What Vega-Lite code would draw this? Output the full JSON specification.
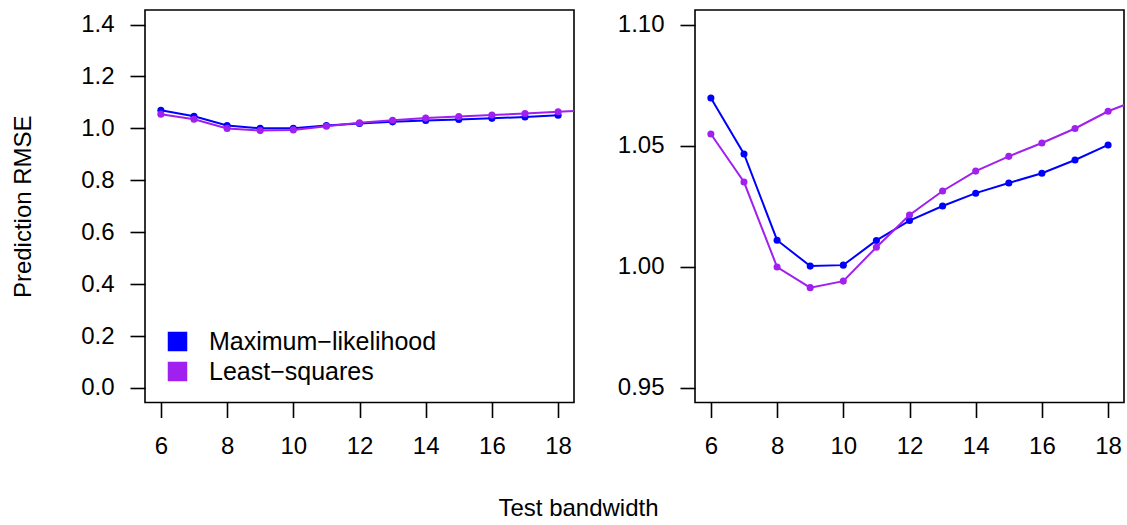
{
  "$schema": "https://vega.github.io/schema/vega-lite/v6.json",
  "padding": {"left": 10, "top": 9, "right": 4, "bottom": 5},
  "background": "white",
  "bounds": "flush",
  "spacing": 121,
  "datasets": {
    "rmse": [
      {"bandwidth": 6, "method": "Maximum−likelihood", "rmse": 1.0697},
      {"bandwidth": 7, "method": "Maximum−likelihood", "rmse": 1.0466},
      {"bandwidth": 8, "method": "Maximum−likelihood", "rmse": 1.0110},
      {"bandwidth": 9, "method": "Maximum−likelihood", "rmse": 1.0003},
      {"bandwidth": 10, "method": "Maximum−likelihood", "rmse": 1.0007},
      {"bandwidth": 11, "method": "Maximum−likelihood", "rmse": 1.0109},
      {"bandwidth": 12, "method": "Maximum−likelihood", "rmse": 1.0191},
      {"bandwidth": 13, "method": "Maximum−likelihood", "rmse": 1.0251},
      {"bandwidth": 14, "method": "Maximum−likelihood", "rmse": 1.0304},
      {"bandwidth": 15, "method": "Maximum−likelihood", "rmse": 1.0346},
      {"bandwidth": 16, "method": "Maximum−likelihood", "rmse": 1.0386},
      {"bandwidth": 17, "method": "Maximum−likelihood", "rmse": 1.0441},
      {"bandwidth": 18, "method": "Maximum−likelihood", "rmse": 1.0503},
      {"bandwidth": 6, "method": "Least−squares", "rmse": 1.0548},
      {"bandwidth": 7, "method": "Least−squares", "rmse": 1.0350},
      {"bandwidth": 8, "method": "Least−squares", "rmse": 0.9999},
      {"bandwidth": 9, "method": "Least−squares", "rmse": 0.9914},
      {"bandwidth": 10, "method": "Least−squares", "rmse": 0.9941},
      {"bandwidth": 11, "method": "Least−squares", "rmse": 1.0081},
      {"bandwidth": 12, "method": "Least−squares", "rmse": 1.0214},
      {"bandwidth": 13, "method": "Least−squares", "rmse": 1.0313},
      {"bandwidth": 14, "method": "Least−squares", "rmse": 1.0395},
      {"bandwidth": 15, "method": "Least−squares", "rmse": 1.0456},
      {"bandwidth": 16, "method": "Least−squares", "rmse": 1.0511},
      {"bandwidth": 17, "method": "Least−squares", "rmse": 1.0571},
      {"bandwidth": 18, "method": "Least−squares", "rmse": 1.0642},
      {"bandwidth": 19, "method": "Least−squares", "rmse": 1.0695}
    ]
  },
  "config": {
    "font": "Liberation Sans",
    "view": {"stroke": "black", "strokeWidth": 1.6},
    "axis": {
      "grid": false, "domain": false,
      "tickColor": "black", "tickSize": 15, "tickWidth": 1.6,
      "labelFont": "Liberation Sans", "labelFontSize": 24, "labelColor": "black",
      "titleFont": "Liberation Sans", "titleFontSize": 24, "titleFontWeight": "normal", "titleColor": "black",
      "labelFlush": false, "labelOverlap": false
    }
  },
  "hconcat": [
    {
      "width": 429,
      "height": 392.5,
      "data": {"name": "rmse"},
      "encoding": {
        "x": {
          "field": "bandwidth", "type": "quantitative",
          "scale": {"domain": [5.52, 18.48], "nice": false, "zero": false},
          "axis": {
            "values": [6, 8, 10, 12, 14, 16, 18], "labelPadding": 17,
            "title": "Test bandwidth", "titleX": 433, "titleY": 106,
            "titleBaseline": "middle", "titleAlign": "center"
          }
        },
        "y": {
          "field": "rmse", "type": "quantitative",
          "scale": {"domain": [-0.056, 1.456], "nice": false, "zero": false},
          "axis": {
            "values": [0, 0.2, 0.4, 0.6, 0.8, 1.0, 1.2, 1.4], "format": ".1f",
            "labelPadding": 16, "labelBaseline": "middle",
            "title": "Prediction RMSE", "titleX": -122, "titleY": 196.25,
            "titleAngle": -90, "titleBaseline": "middle", "titleAlign": "center"
          }
        },
        "color": {
          "field": "method", "type": "nominal",
          "scale": {"domain": ["Maximum−likelihood", "Least−squares"], "range": ["#0000FF", "#A020F0"]},
          "legend": {
            "orient": "none", "legendX": 20, "legendY": 319, "title": null,
            "symbolType": "square", "symbolSize": 324,
            "symbolStrokeColor": "black", "symbolStrokeWidth": 1.5,
            "labelFont": "Liberation Sans", "labelFontSize": 25, "labelColor": "black",
            "labelLimit": 500,
            "labelOffset": 19, "rowPadding": 4, "padding": 0,
            "encode": {
              "symbols": {
                "update": {
                  "fill": {"scale": "color", "field": "value"},
                  "stroke": {"value": "black"},
                  "strokeWidth": {"value": 1.5},
                  "opacity": {"value": 1}
                }
              }
            }
          }
        }
      },
      "layer": [
        {"transform": [{"filter": "datum.method === 'Maximum−likelihood'"}], "mark": {"type": "line", "clip": true, "strokeWidth": 2}},
        {"transform": [{"filter": "datum.method === 'Maximum−likelihood'"}], "mark": {"type": "point", "filled": true, "opacity": 1, "size": 50, "clip": true}},
        {"transform": [{"filter": "datum.method === 'Least−squares'"}], "mark": {"type": "line", "clip": true, "strokeWidth": 2}},
        {"transform": [{"filter": "datum.method === 'Least−squares'"}], "mark": {"type": "point", "filled": true, "opacity": 1, "size": 50, "clip": true}}
      ]
    },
    {
      "width": 429,
      "height": 392.5,
      "data": {"name": "rmse"},
      "encoding": {
        "x": {
          "field": "bandwidth", "type": "quantitative",
          "scale": {"domain": [5.52, 18.48], "nice": false, "zero": false},
          "axis": {"values": [6, 8, 10, 12, 14, 16, 18], "labelPadding": 17, "title": null}
        },
        "y": {
          "field": "rmse", "type": "quantitative",
          "scale": {"domain": [0.944, 1.106], "nice": false, "zero": false},
          "axis": {
            "values": [0.95, 1.0, 1.05, 1.1], "format": ".2f",
            "labelPadding": 16, "labelBaseline": "middle", "title": null
          }
        }
      },
      "layer": [
        {"transform": [{"filter": "datum.method === 'Maximum−likelihood'"}], "mark": {"type": "line", "clip": true, "strokeWidth": 2, "color": "#0000FF"}},
        {"transform": [{"filter": "datum.method === 'Maximum−likelihood'"}], "mark": {"type": "point", "filled": true, "opacity": 1, "size": 50, "clip": true, "color": "#0000FF"}},
        {"transform": [{"filter": "datum.method === 'Least−squares'"}], "mark": {"type": "line", "clip": true, "strokeWidth": 2, "color": "#A020F0"}},
        {"transform": [{"filter": "datum.method === 'Least−squares'"}], "mark": {"type": "point", "filled": true, "opacity": 1, "size": 50, "clip": true, "color": "#A020F0"}}
      ]
    }
  ]
}
